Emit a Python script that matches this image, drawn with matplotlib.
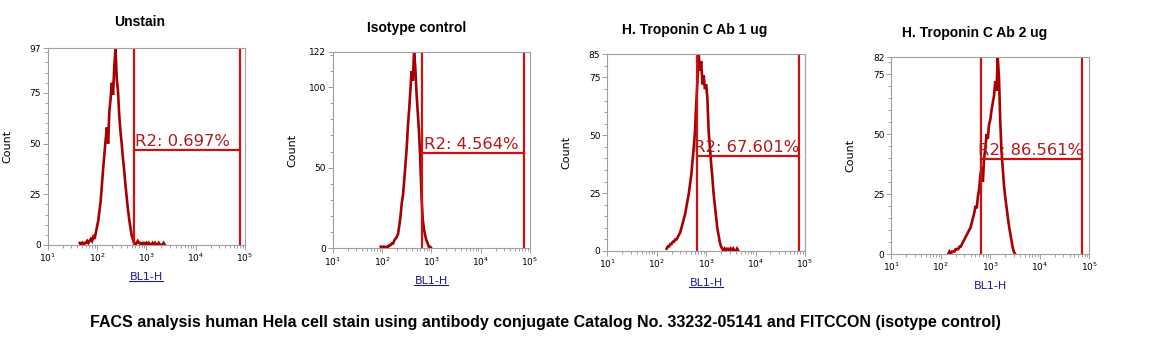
import matplotlib
matplotlib.use("Agg")
import matplotlib.pyplot as plt
import numpy as np
from matplotlib.ticker import FixedLocator, NullFormatter, LogLocator

# ---- data ----
titles = ["Unstain", "Isotype control", "H. Troponin C Ab 1 ug", "H. Troponin C Ab 2 ug"]
gate_labels = ["R2: 0.697%", "R2: 4.564%", "R2: 67.601%", "R2: 86.561%"]

# histogram channels: first bin (log10 of BL1-H) and bin width in decades
bin_start = [1.65, 1.975, 2.20, 2.15]
bin_step = 0.025

counts_unstain = [1, 0, 1, 0, 1, 1, 2, 1, 2, 3, 2, 4, 3, 6, 9, 12, 17, 22, 30, 38,
                  45, 52, 58, 50, 66, 72, 80, 74, 88, 97, 82, 76, 64, 56, 50, 43, 37, 30, 24, 18,
                  13, 9, 5, 3, 1, 0, 1, 2, 1, 1, 0, 1, 1, 0, 1, 0, 1, 0, 0, 1,
                  0, 1, 0, 0, 1, 0, 0, 0, 1, 0]
counts_isotype = [1, 0, 1, 1, 0, 1, 1, 2, 2, 3, 3, 5, 6, 7, 9, 14, 20, 28, 33, 42,
                  52, 62, 76, 86, 98, 110, 104, 122, 112, 96, 84, 72, 56, 32, 18, 12, 8, 5, 3, 1,
                  1, 0]
counts_ab1 = [1, 2, 2, 3, 3, 4, 4, 5, 5, 6, 7, 8, 10, 12, 14, 16, 19, 22, 25, 29,
              33, 39, 45, 52, 64, 74, 85, 78, 82, 72, 76, 70, 72, 66, 52, 45, 38, 32, 25, 20,
              15, 10, 7, 4, 2, 1, 0, 1, 0, 1, 1, 0, 1, 0, 1, 0, 0, 1, 0]
counts_ab2 = [0, 1, 0, 1, 1, 1, 2, 2, 2, 3, 3, 4, 5, 6, 7, 8, 9, 10, 11, 13,
              15, 17, 20, 19, 24, 27, 33, 36, 30, 40, 44, 50, 48, 54, 56, 60, 63, 66, 72, 68,
              82, 74, 56, 43, 36, 29, 24, 20, 16, 12, 9, 6, 3, 1, 0]
all_counts = [counts_unstain, counts_isotype, counts_ab1, counts_ab2]

y_max = [97, 122, 85, 82]
y_major = [[0, 25, 50, 75, 97], [0, 50, 100, 122], [0, 25, 50, 75, 85], [0, 25, 50, 75, 82]]
y_minor_step = [5, 10, 5, 5]

gate_lo = [569, 638, 646, 646]
gate_hi = [79400, 74000, 76000, 72500]
gate_y = [46.8, 59, 41, 39.7]
label_x = [590, 725, 569, 573]

# ---- layout (pixels) ----
W, H = 1151, 354
axes_px = [(47.7, 48.3, 245, 245), (332.7, 51.7, 530, 248.3),
           (607.3, 54.3, 805, 251), (891.3, 57.3, 1089.3, 254)]
title_px = [(140, 22), (417, 28), (695, 30), (975, 33)]

hist_color = "#a80000"
gate_color = "#cc1111"
text_color = "#b01a1a"
axis_grey = "#a0a0a0"

fig = plt.figure(figsize=(W / 100, H / 100), dpi=100)

for i in range(4):
    l, t, r, b = axes_px[i]
    ax = fig.add_axes([l / W, 1 - b / H, (r - l) / W, (b - t) / H])

    counts = all_counts[i]
    x = 10 ** (bin_start[i] + bin_step * np.arange(len(counts)))
    ax.plot(x, counts, color=hist_color, lw=1.9, solid_joinstyle="miter")

    # gate R2
    ax.axvline(gate_lo[i], color=gate_color, lw=1.6)
    ax.axvline(gate_hi[i], color=gate_color, lw=1.6)
    ax.plot([gate_lo[i], gate_hi[i]], [gate_y[i], gate_y[i]], color=gate_color, lw=1.6)
    ax.annotate(gate_labels[i], (label_x[i], gate_y[i]), xytext=(0, 3),
                textcoords="offset points", color=text_color, fontsize=11.8,
                ha="left", va="baseline", family="DejaVu Sans")

    ax.set_xscale("log")
    ax.set_xlim(10, 1e5)
    ax.set_ylim(0, y_max[i])
    ax.xaxis.set_major_locator(FixedLocator([10, 100, 1000, 10000, 100000]))
    ax.xaxis.set_minor_locator(LogLocator(base=10, subs=np.arange(2, 10)))
    ax.xaxis.set_minor_formatter(NullFormatter())
    ax.set_xticklabels(["10$^{1}$", "10$^{2}$", "10$^{3}$", "10$^{4}$", "10$^{5}$"])
    ax.set_yticks(y_major[i])
    ax.set_yticks(np.arange(0, y_max[i], y_minor_step[i]), minor=True)

    for s in ax.spines.values():
        s.set_color(axis_grey)
        s.set_linewidth(0.8)
    ax.tick_params(which="both", colors=axis_grey, labelcolor="black", labelsize=6.5, width=0.7)
    ax.tick_params(which="major", length=3.5, pad=1.5)
    ax.tick_params(which="minor", length=2)

    ax.set_ylabel("Count", fontsize=8)
    ax.yaxis.set_label_coords(-0.18, 0.5)

    ax.text(0.5, -0.165, "BL1-H", transform=ax.transAxes, ha="center", va="center",
            color="#1c1c8c", fontsize=8)
    if i < 3:
        ax.plot([0.414, 0.586], [-0.185, -0.185], transform=ax.transAxes,
                color="#1c1c8c", lw=0.8, clip_on=False)

    tx, ty = title_px[i]
    fig.text(tx / W, 1 - ty / H, titles[i], ha="center", va="center",
             fontsize=10, fontweight="bold", family="Liberation Sans")

fig.text(90 / W, 1 - 322 / H,
         "FACS analysis human Hela cell stain using antibody conjugate Catalog No. 33232-05141 and FITCCON (isotype control)",
         ha="left", va="center", fontsize=11.5, fontweight="bold", family="Liberation Sans")

fig.savefig("out.png", dpi=100)
